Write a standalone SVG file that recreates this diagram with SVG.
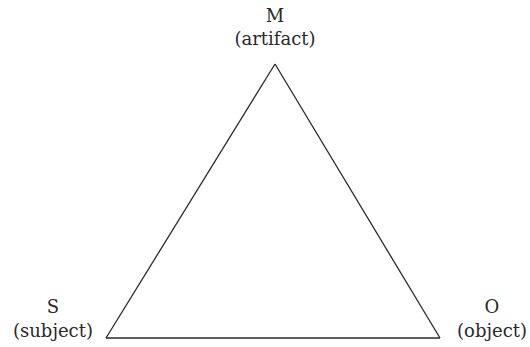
<svg xmlns="http://www.w3.org/2000/svg" width="530" height="347" viewBox="0 0 530 347">
<style>
text{font-family:"DejaVu Serif","Liberation Serif",serif;font-size:18px;fill:#2a2a2a;text-anchor:middle}
.edge{stroke:#2a2a2a;stroke-width:1.3;fill:none}
</style>
<rect width="530" height="347" fill="#fff"/>
<g id="connectors">
<line class="edge" x1="275" y1="64" x2="106" y2="338"/>
<line class="edge" x1="275" y1="64" x2="440" y2="338"/>
<line class="edge" x1="106" y1="338" x2="440" y2="338"/>
</g>
<g id="node-M"><text x="275" y="22">M</text><text x="275" y="45">(artifact)</text></g>
<g id="node-S"><text x="53" y="313">S</text><text x="53" y="337">(subject)</text></g>
<g id="node-O"><text x="492" y="313">O</text><text x="492" y="337">(object)</text></g>
</svg>
